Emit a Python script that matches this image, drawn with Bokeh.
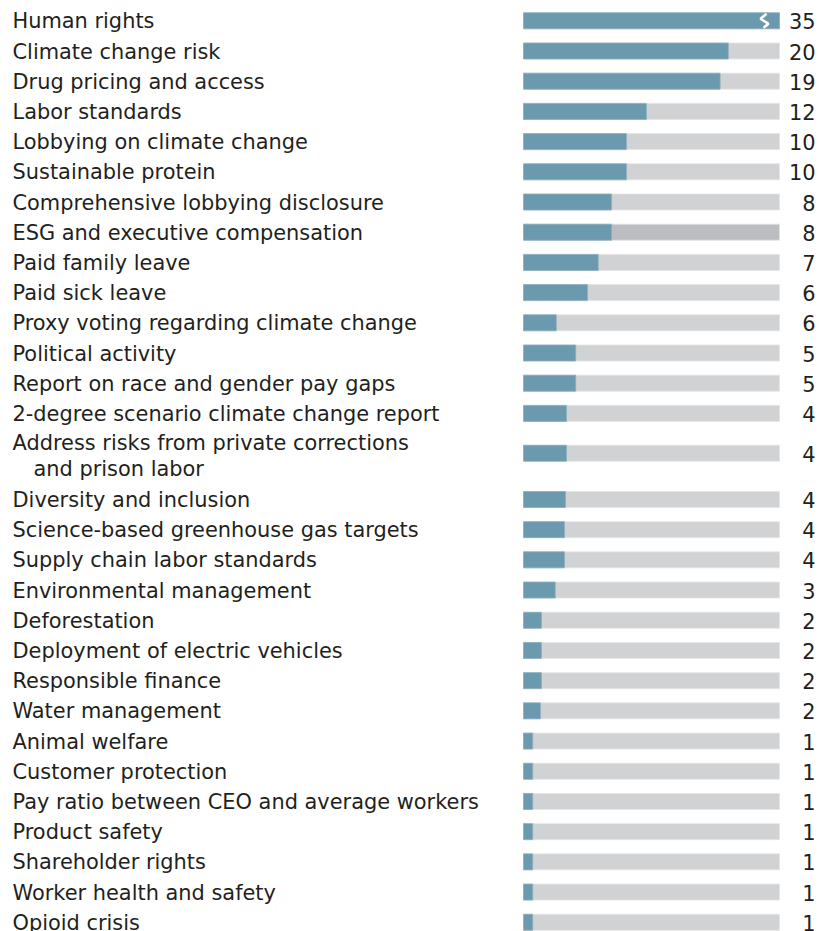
import numpy as np
from bokeh.plotting import figure
from bokeh.models import Range1d, ColumnDataSource
from bokeh.core.properties import value
from bokeh.embed import file_html
from bokeh.resources import INLINE

# ---------------- data ----------------
topics = [
    "Human rights", "Climate change risk", "Drug pricing and access", "Labor standards",
    "Lobbying on climate change", "Sustainable protein", "Comprehensive lobbying disclosure",
    "ESG and executive compensation", "Paid family leave", "Paid sick leave",
    "Proxy voting regarding climate change", "Political activity",
    "Report on race and gender pay gaps", "2-degree scenario climate change report",
    "Address risks from private corrections\nand prison labor", "Diversity and inclusion",
    "Science-based greenhouse gas targets", "Supply chain labor standards",
    "Environmental management", "Deforestation", "Deployment of electric vehicles",
    "Responsible finance", "Water management", "Animal welfare", "Customer protection",
    "Pay ratio between CEO and average workers", "Product safety", "Shareholder rights",
    "Worker health and safety", "Opioid crisis",
]
counts = [35, 20, 19, 12, 10, 10, 8, 8, 7, 6, 6, 5, 5, 4, 4, 4, 4, 4, 3, 2, 2, 2, 2,
          1, 1, 1, 1, 1, 1, 1]
# bar lengths as drawn (same units as counts)
bar_len = [35, 20, 19.2, 12, 10.05, 10.05, 8.6, 8.6, 7.3, 6.25, 3.2, 5.1, 5.1, 4.2, 4.2,
           4.1, 4.0, 4.0, 3.1, 1.75, 1.75, 1.75, 1.65, 0.9, 0.9, 0.9, 0.9, 0.9, 0.9, 0.9]
axis_max = 25
highlight = ["ESG and executive compensation"]

# ---------------- layout constants ----------------
W, H = 833, 931
BAR_X0 = 523          # px where bars start
PX_PER_UNIT = 256 / axis_max
ROW_PX = 30.2
TOP_PX = 20.3
LABEL_PX = 12
VALUE_PX = 815
BASE_OFF = 0.5        # baseline offset from bar centre, px

TEAL = "#6b99ad"
TRACK = "#d1d2d4"
TRACK_HI = "#bcbdc1"
TEXT = "#231f20"
FONT = "DejaVu Sans"
FSIZE = "20.9px"

# row positions (two-line labels get extra room)
pos = []
cur = 0.0
for t in topics:
    n = t.count("\n") + 1
    pos.append(cur + 0.32 * (n - 1))
    cur += 1 + 0.85 * (n - 1)
pos = np.array(pos)

x_start = -BAR_X0 / PX_PER_UNIT
x_end = (W - BAR_X0) / PX_PER_UNIT
y_top = -TOP_PX / ROW_PX
y_bot = (H - TOP_PX) / ROW_PX

p = figure(width=W, height=H, output_backend="svg", toolbar_location=None,
           x_range=Range1d(x_start, x_end), y_range=Range1d(y_bot, y_top),
           min_border=0, min_border_left=0, min_border_right=0,
           min_border_top=0, min_border_bottom=0)
p.axis.visible = False
p.grid.visible = False
p.outline_line_color = None
p.background_fill_color = "white"
p.border_fill_color = "white"

shown = np.minimum(np.array(bar_len, dtype=float), axis_max)
track_cols = [TRACK_HI if t in highlight else TRACK for t in topics]
src = ColumnDataSource(dict(y=pos, right=shown, full=[axis_max] * len(topics),
                            tc=track_cols))

BH = 16 / ROW_PX
p.hbar(y="y", left=0, right="full", height=BH, fill_color="tc", line_color="#e4e5e6",
       line_width=0.8, source=src)
p.hbar(y="y", left=0, right="right", height=BH, fill_color=TEAL, line_color="#8db0c0",
       line_width=0.8, source=src)

# break mark for bars exceeding the axis
u = 1 / PX_PER_UNIT
for yv, bl in zip(pos, bar_len):
    if bl > axis_max:
        xs = [axis_max - 13 * u, axis_max - 19 * u, axis_max - 11 * u, axis_max - 16 * u]
        ys = [yv - 7 / ROW_PX, yv - 2 / ROW_PX, yv + 3 / ROW_PX, yv + 7 / ROW_PX]
        p.line(xs, ys, line_color="white", line_width=2.5)

# labels
lab_x = (LABEL_PX - BAR_X0) / PX_PER_UNIT
tx, ty, tt = [], [], []
for t, yv in zip(topics, pos):
    lines = t.split("\n")
    if len(lines) == 1:
        tx.append(lab_x); ty.append(yv + BASE_OFF / ROW_PX); tt.append(t)
    else:
        tx.append(lab_x); ty.append(yv + (BASE_OFF - 10.5) / ROW_PX); tt.append(lines[0])
        for k, ln in enumerate(lines[1:]):
            tx.append(lab_x + 21 * u); ty.append(yv + (BASE_OFF + 15.5 + 26 * k) / ROW_PX)
            tt.append(ln)
p.text(x=tx, y=ty, text=tt, text_font=value(FONT),
       text_font_size=FSIZE, text_color=TEXT, text_baseline="alphabetic", text_align="left")

# value labels
val_x = (VALUE_PX - BAR_X0) / PX_PER_UNIT
p.text(x=[val_x] * len(topics), y=pos + BASE_OFF / ROW_PX, text=[str(c) for c in counts],
       text_font=value(FONT), text_font_size=FSIZE, text_color=TEXT,
       text_baseline="alphabetic", text_align="right")

open("out.html", "w").write(file_html(p, INLINE))
